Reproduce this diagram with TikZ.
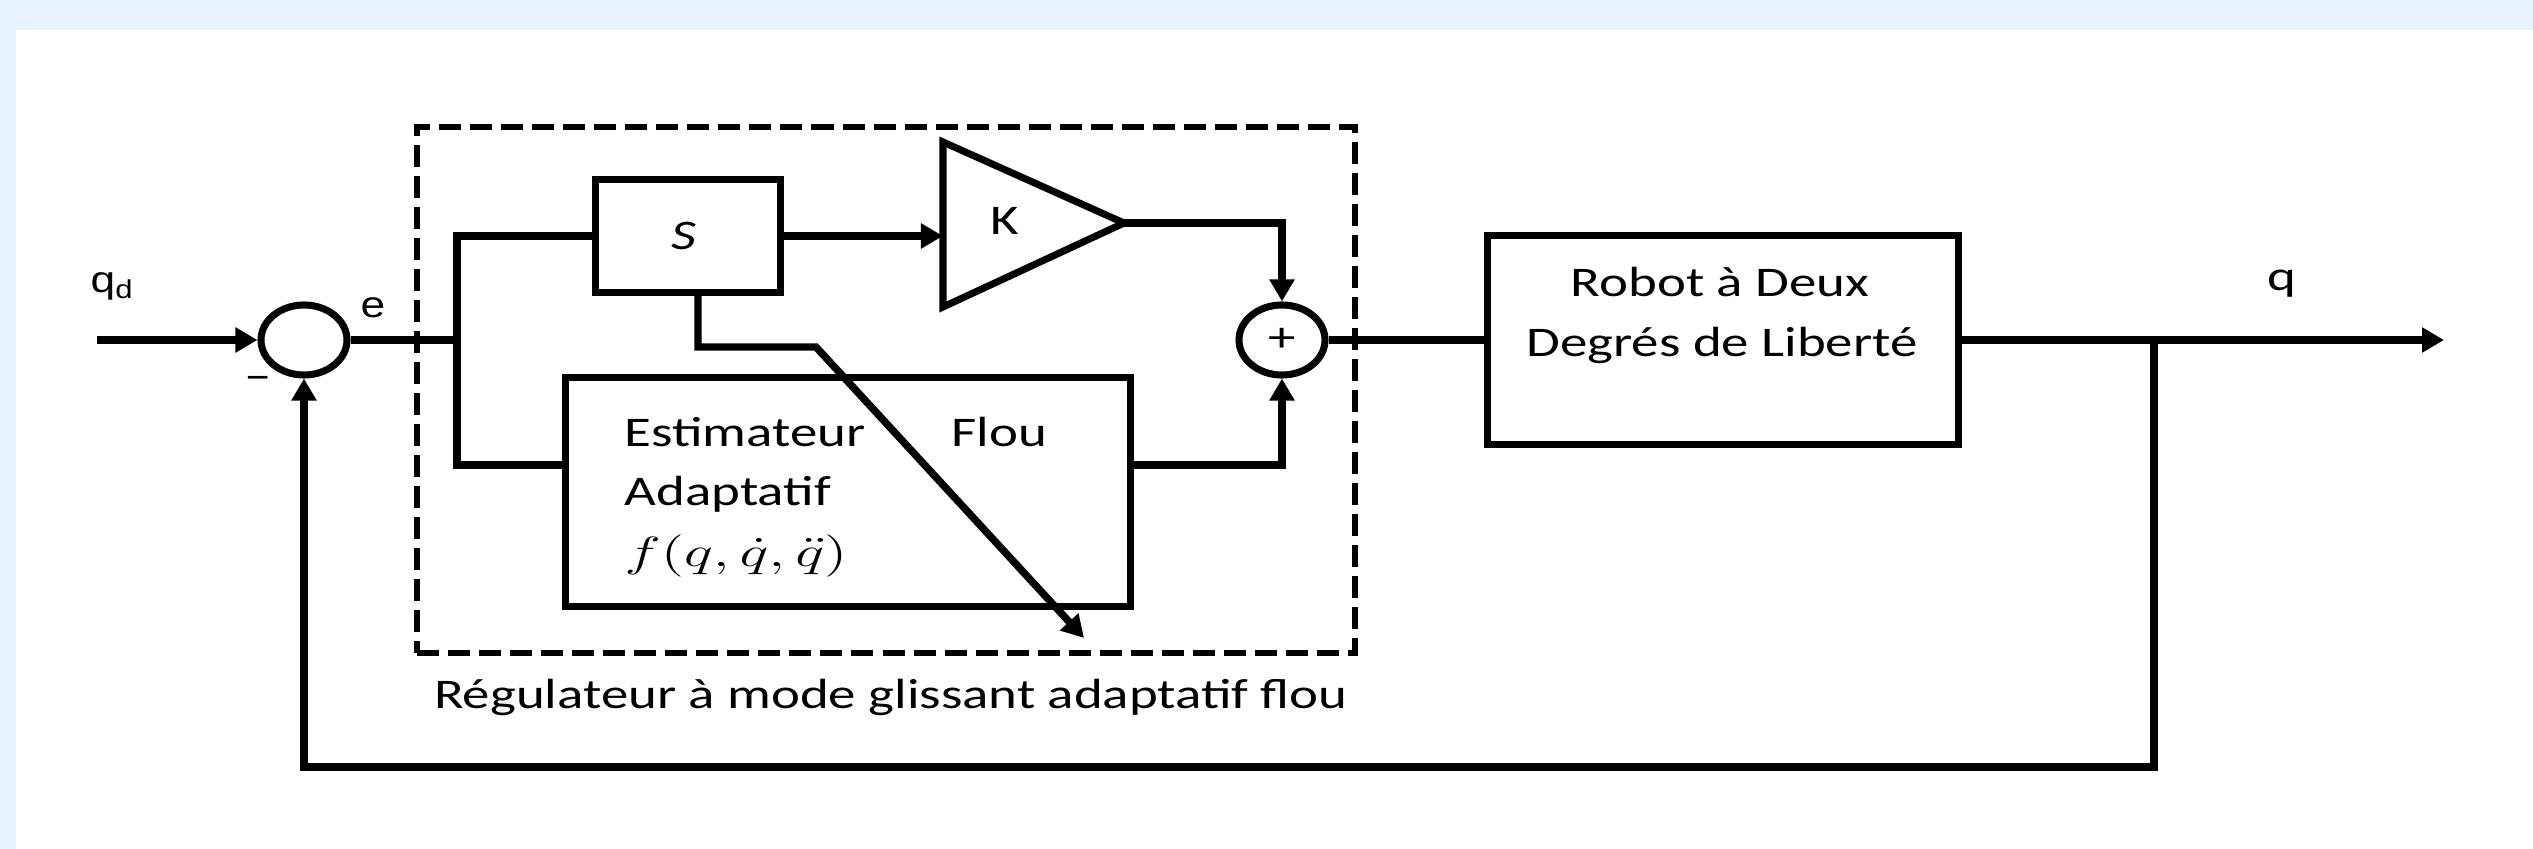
\documentclass[tikz,border=0pt]{standalone}
\usepackage{fontspec}
\usepackage{graphicx}
\setmainfont{Carlito}[FakeStretch=1.3]
\newfontfamily\arialfont{Liberation Sans}[FakeStretch=1.2]
\usetikzlibrary{shapes.geometric,arrows.meta}
\definecolor{bgblue}{RGB}{232,244,253}
\tikzset{
  wire/.style={line width=2.1pt},
  arr/.style={wire,-{Triangle[length=0.22cm,width=0.24cm]}},
  blk/.style={draw,line width=2pt,inner sep=0pt},
  sumnode/.style={draw,ellipse,line width=2pt,minimum width=0.86cm,minimum height=0.70cm,inner sep=0pt},
  txt/.style={font=\fontsize{12}{14}\selectfont,inner sep=0pt},
  sigtxt/.style={font=\arialfont\fontsize{10.5}{12}\selectfont,inner sep=0pt},
  dashbox/.style={draw,line width=1.8pt,dash pattern=on 0.22cm off 0.09cm,inner sep=0pt}
}

\begin{document}
\begin{tikzpicture}[x=0.01cm,y=-0.01cm]
    \useasboundingbox (0,0) rectangle (2533,849);
    \fill[bgblue] (0,0) rectangle (2533,849);
    \fill[white] (16,30) rectangle (2533,849);

    \node[dashbox,minimum width=9.37cm,minimum height=5.26cm] (ctrl) at (886,390) {};
    \node[sumnode] (sumA) at (304,340) {};
    \node[sumnode] (sumB) at (1282,340) {\fontsize{12}{14}\selectfont +};
    \node[blk,minimum width=1.84cm,minimum height=1.13cm] (sBox) at (688,236) {};
    \node[txt,anchor=base] (sLbl) at (684,250) {\textit{S}};
    \draw[blk] (943,142) -- (1124,223) -- (943,307) -- cycle;
    \coordinate (kIn) at (943,236);
    \coordinate (kOut) at (1124,223);
    \node[txt,anchor=base] (kLbl) at (1005,235) {K};
    \node[blk,minimum width=5.64cm,minimum height=2.29cm] (est) at (848,492) {};
    \node[txt,anchor=base west] (estA) at (624,447) {Estimateur};
    \node[txt,anchor=base west] (estB) at (951,447) {Flou};
    \node[txt,anchor=base west] (estC) at (624,506) {Adaptatif};
    \node[anchor=base west,inner sep=0pt,font=\fontsize{12}{14}\selectfont] (estD) at (624,567)
        {\scalebox{1.45}[1]{$f(q,\dot{q},\ddot{q})$}};
    \node[blk,minimum width=4.70cm,minimum height=2.08cm] (robot) at (1723,340) {};
    \node[txt,anchor=base] (robA) at (1720,297) {Robot à Deux};
    \node[txt,anchor=base] (robB) at (1722,357) {Degrés de Liberté};

    \coordinate (qdIn) at (97,340);
    \coordinate (brA) at (457,340);
    \coordinate (estL) at (566,465);
    \coordinate (estR) at (1130,465);
    \coordinate (brB) at (2154,340);
    \coordinate (qOut) at (2444,340);
    \coordinate (fbB) at (2154,767);
    \coordinate (adK) at (816,347);
    \coordinate (adTip) at (1084,638);

    \draw[arr] (qdIn) -- (sumA.west);
    \draw[wire] (sumA.east) -- (brA) |- (sBox.west);
    \draw[wire] (brA) |- (estL);
    \draw[arr] (sBox.east) -- (kIn);
    \draw[arr] (kOut) -| (sumB.north);
    \draw[arr] (estR) -| (sumB.south);
    \draw[wire] (sumB.east) -- (robot.west);
    \draw[arr] (robot.east) -- (qOut);
    \draw[arr] (brB) -- (fbB) -| (sumA.south);
    \draw[arr] ([xshift=0.1cm]sBox.south) |- (adK) -- (adTip);

    \node[sigtxt,anchor=base west] (qdLbl) at (90,293) {q\textsubscript{d}};
    \node[sigtxt,anchor=base] (eLbl) at (373,318) {e};
    \node[txt] (minus) at (258,383) {–};
    \node[txt,anchor=base] (qLbl) at (2282,291) {q};
    \node[txt,anchor=base] (ctrlLbl) at (891,708) {Régulateur à mode glissant adaptatif flou};
\end{tikzpicture}
\end{document}
